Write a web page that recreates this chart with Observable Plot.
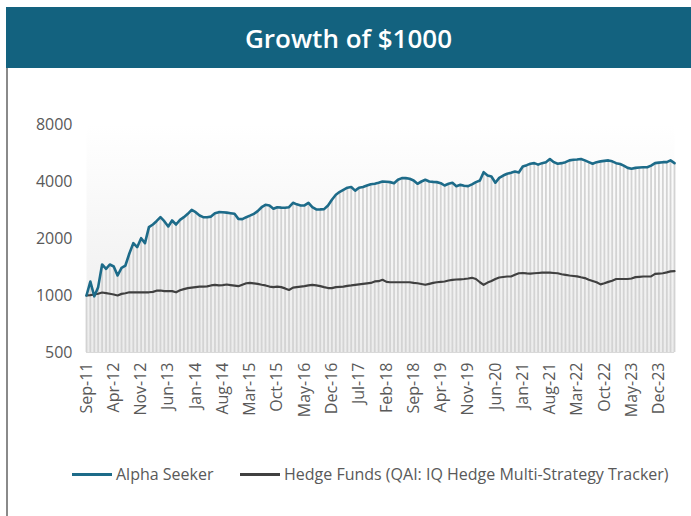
<!DOCTYPE html>
<html>
<head>
<meta charset="utf-8">
<script src="https://cdn.jsdelivr.net/npm/d3@7"></script>
<script src="https://cdn.jsdelivr.net/npm/@observablehq/plot@0.6"></script>
<style>
  html, body { margin: 0; padding: 0; background: #fff; }
  #wrap { position: relative; width: 691px; height: 516px; overflow: hidden; font-family: "Open Sans", sans-serif; }
  #title { position: absolute; left: 6px; top: 7px; width: 685px; height: 61px; background: #13627f; color: #fff;
           font-family: "Open Sans", sans-serif; font-weight: 600; font-size: 26px; display: flex; align-items: center; justify-content: center; }
  #border { position: absolute; left: 6px; top: 68px; width: 2px; height: 448px; background: #8a8a8a; }
  #chart { position: absolute; left: 0; top: 68px; }
  #legend { position: absolute; left: 0; top: 461px; width: 691px; font-size: 16px; color: #595959; }
  .item { position: absolute; top: 0; display: flex; align-items: center; height: 26px; }
  .sw { width: 40px; height: 3px; margin-right: 4px; }
</style>
</head>
<body>
<div id="wrap">
  <div id="title">Growth of $1000</div>
  <div id="border"></div>
  <div id="chart"></div>
  <div id="legend">
    <div class="item" style="left:72px"><div class="sw" style="background:#1d6b89"></div><span id="n0"></span></div>
    <div class="item" style="left:240px"><div class="sw" style="background:#404040"></div><span id="n1"></span></div>
  </div>
</div>
<script>
const seriesNames = ["Alpha Seeker", "Hedge Funds (QAI: IQ Hedge Multi-Strategy Tracker)"];
const startMonth = "2011-09";
const alpha = [
  1000,1186,990,1107,1458,1383,1458,1423,1275,1400,1440,1667,1890,1800,2007,1890,2295,2371,2468,2592,
  2468,2315,2490,2371,2510,2592,2700,2835,2755,2646,2592,2592,2610,2720,2755,2750,2740,2720,2700,2540,
  2530,2592,2640,2700,2788,2926,3012,2990,2870,2926,2910,2905,2926,3087,3030,2990,2990,3087,2926,2846,
  2850,2860,2990,3202,3403,3530,3616,3710,3740,3580,3710,3740,3810,3870,3890,3940,4000,3990,3970,3920,
  4084,4166,4166,4133,4050,3890,4000,4084,4000,3980,3970,3920,3810,3890,3940,3780,3840,3800,3780,3860,
  3970,4050,4478,4303,4250,3940,4180,4300,4393,4450,4517,4460,4800,4880,4960,5000,4910,5000,5060,5260,
  5060,4960,5000,5060,5170,5210,5230,5260,5170,5060,4960,5060,5110,5140,5170,5110,5000,4950,4850,4720,
  4670,4720,4740,4760,4760,4850,5000,5030,5060,5060,5170,5000
];
const hedge = [
  1000,1005,1012,1021,1037,1030,1021,1012,1000,1020,1028,1040,1040,1040,1040,1040,1040,1045,1060,1063,
  1055,1055,1055,1040,1065,1080,1093,1100,1107,1113,1113,1117,1130,1139,1130,1135,1143,1135,1128,1120,
  1140,1161,1165,1160,1152,1140,1130,1115,1107,1113,1107,1090,1070,1100,1107,1113,1120,1130,1139,1130,
  1120,1107,1095,1093,1107,1110,1113,1125,1130,1139,1145,1152,1160,1165,1186,1190,1210,1180,1175,1175,
  1175,1175,1175,1175,1165,1161,1150,1139,1152,1165,1175,1180,1186,1200,1210,1215,1218,1222,1230,1240,
  1222,1175,1139,1170,1192,1222,1245,1252,1260,1260,1286,1311,1315,1308,1305,1311,1315,1320,1320,1320,
  1315,1311,1295,1285,1275,1268,1262,1248,1236,1210,1192,1175,1145,1160,1180,1197,1222,1222,1222,1222,
  1230,1250,1255,1260,1260,1262,1300,1305,1311,1325,1340,1345
];
const xTickLabels = ["Sep-11","Apr-12","Nov-12","Jun-13","Jan-14","Aug-14","Mar-15","Oct-15","May-16","Dec-16","Jul-17",
  "Feb-18","Sep-18","Apr-19","Nov-19","Jun-20","Jan-21","Aug-21","Mar-22","Oct-22","May-23","Dec-23"];
const yTicks = [500, 1000, 2000, 4000, 8000];

const start = d3.utcParse("%Y-%m")(startMonth);
const dates = alpha.map((_, i) => d3.utcMonth.offset(start, i));
const rows = alpha.map((a, i) => ({date: dates[i], alpha: a, hedge: hedge[i]}));
const parseTick = d3.utcParse("%b-%y");
const xTicks = xTickLabels.map(parseTick);

document.getElementById("n0").textContent = seriesNames[0];
document.getElementById("n1").textContent = seriesNames[1];

const chart = Plot.plot({
  width: 691,
  height: 380,
  marginLeft: 86,
  marginRight: 17,
  marginTop: 56,
  marginBottom: 96,
  style: {fontFamily: "Open Sans, sans-serif", fontSize: "16px", color: "#595959", background: "transparent", overflow: "visible"},
  x: {type: "utc", domain: [dates[0], dates[dates.length - 1]]},
  y: {type: "log", domain: [500, 8000], axis: null},
  marks: [
    Plot.frame({fill: "url(#bgGrad)", stroke: null}),
    Plot.ruleX(rows, {x: "date", y1: 500, y2: "alpha", stroke: "#d3d3d3", strokeWidth: 1.8}),
    Plot.ruleY([500], {stroke: "#d9d9d9", strokeWidth: 1}),
    Plot.line(rows, {x: "date", y: "hedge", stroke: "#404040", strokeWidth: 2.2}),
    Plot.line(rows, {x: "date", y: "alpha", stroke: "#1d6b89", strokeWidth: 2.6}),
    Plot.text(yTicks, {y: d => d, text: d => String(d), frameAnchor: "left", textAnchor: "end", dx: -14, fill: "#595959", fontSize: 16}),
    Plot.axisX(xTicks, {tickFormat: d3.utcFormat("%b-%y"), tickRotate: -90, tickSize: 0, tickPadding: 10, label: null, fill: "#595959"})
  ]
});

const svg = d3.select(chart);
const defs = svg.insert("defs", ":first-child");
const g = defs.append("linearGradient").attr("id", "bgGrad").attr("x1", 0).attr("y1", 0).attr("x2", 0).attr("y2", 1);
g.append("stop").attr("offset", "0%").attr("stop-color", "#ffffff");
g.append("stop").attr("offset", "100%").attr("stop-color", "#ececec");

document.getElementById("chart").appendChild(chart);
</script>
</body>
</html>
